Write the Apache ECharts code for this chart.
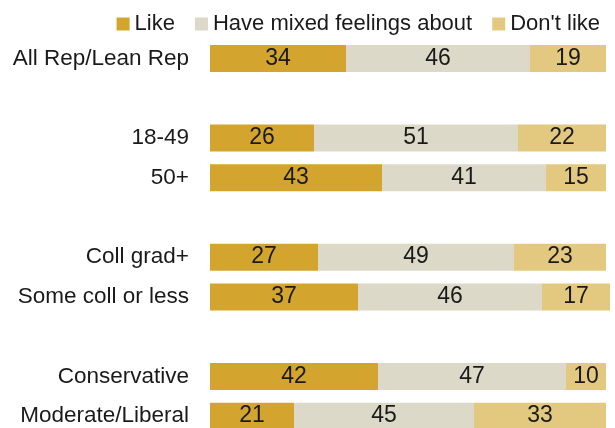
<!DOCTYPE html>
<html>
<head>
<meta charset="utf-8">
<script src="https://cdn.jsdelivr.net/npm/echarts@6/dist/echarts.min.js"></script>
<style>
  html, body { margin: 0; padding: 0; background: #ffffff; }
  #chart { width: 615px; height: 428px; }
</style>
</head>
<body>
<div id="chart"></div>
<script>
// ---- Data ----
const categories = ['All Rep/Lean Rep', '18-49', '50+', 'Coll grad+', 'Some coll or less', 'Conservative', 'Moderate/Liberal'];
const groupSizes = [1, 2, 2, 2];
const seriesNames = ['Like', 'Have mixed feelings about', "Don't like"];
const like = [34, 26, 43, 27, 37, 42, 21];
const mixed = [46, 51, 41, 49, 46, 47, 45];
const dislike = [19, 22, 15, 23, 17, 10, 33];
const colors = ['#d3a52f', '#dcd9c8', '#e3c87f'];

// ---- Build padded axis with blank rows between groups ----
function pad(arr, blank) {
  const out = [];
  let i = 0;
  groupSizes.forEach((g, gi) => {
    if (gi > 0) out.push(blank(gi));
    for (let k = 0; k < g; k++) out.push(arr[i++]);
  });
  return out;
}
const axisCats = pad(categories, gi => ' '.repeat(gi));
const values = [like, mixed, dislike].map(v => pad(v, () => null));

const font = "'Liberation Sans', Arial, sans-serif";
const chart = echarts.init(document.getElementById('chart'));
chart.setOption({
  animation: false,
  textStyle: { fontFamily: font },
  legend: {
    top: 8,
    right: 10,
    itemWidth: 13,
    itemHeight: 13,
    itemGap: 20,
    icon: 'rect',
    textStyle: { fontSize: 22, color: '#1a1a1a', fontFamily: font },
    data: seriesNames
  },
  grid: { left: 210, right: 5, top: 38.5, height: 397.5, containLabel: false, outerBoundsMode: 'none' },
  xAxis: {
    type: 'value', min: 0, max: 100,
    show: false
  },
  yAxis: {
    type: 'category',
    data: axisCats,
    inverse: true,
    axisLine: { show: false },
    axisTick: { show: false },
    axisLabel: { fontSize: 22.5, color: '#1a1a1a', margin: 21, fontFamily: font }
  },
  series: seriesNames.map((name, i) => ({
    name: name,
    type: 'bar',
    stack: 'total',
    barWidth: 27,
    data: values[i],
    itemStyle: { color: colors[i] },
    label: {
      show: true,
      position: 'inside',
      fontSize: 23,
      color: '#1a1a1a',
      fontFamily: font
    }
  }))
});
</script>
</body>
</html>
